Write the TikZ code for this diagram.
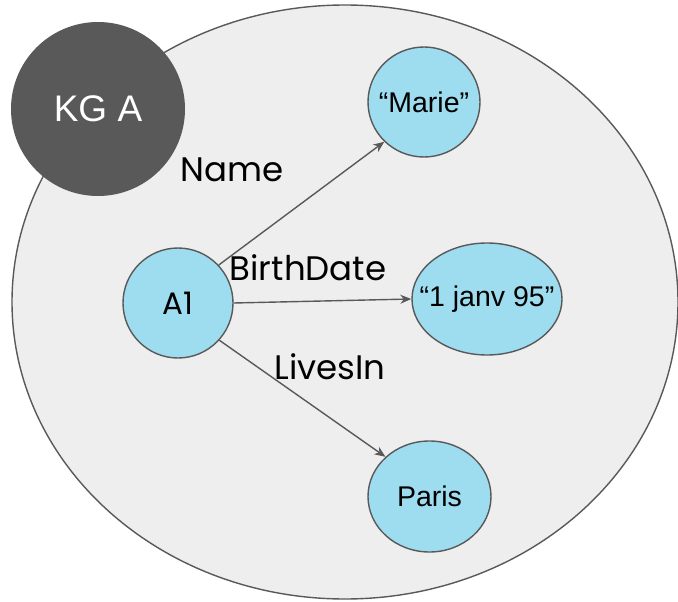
\documentclass[tikz,border=0pt]{standalone}
\usepackage{fontspec}
\setmainfont{Liberation Sans}
\newfontfamily\labelfont{Poppins}
\usetikzlibrary{shapes.geometric,arrows.meta}
\definecolor{graphfill}{HTML}{EEEEEE}
\definecolor{darkgray}{HTML}{595959}
\definecolor{nodeblue}{HTML}{9EDCEF}
\tikzset{
  entity/.style={ellipse, draw=darkgray, line width=1.4pt, fill=nodeblue,
    inner sep=0pt, label={[font=\fontsize{28.5}{31}\selectfont]center:#1}},
  relation/.style={font=\labelfont\fontsize{34}{36}\selectfont, inner sep=0pt},
  link/.style={draw=darkgray, line width=1.4pt,
    -{Stealth[length=11pt,width=9pt]}},
}
\begin{document}
\begin{tikzpicture}[x=1pt,y=-1pt]
\useasboundingbox (0,0) rectangle (678,602);
% the knowledge graph region
\node[ellipse, draw=darkgray, line width=1.4pt, fill=graphfill,
  minimum width=666pt, minimum height=594pt, inner sep=0pt] (kg) at (345,302) {};
% graph badge
\node[circle, fill=darkgray, minimum size=174pt, inner sep=0pt,
  text=white, font=\fontsize{37}{40}\selectfont] (badge) at (98,109) {KG A};
% entities
\node[ellipse, draw=darkgray, line width=1.4pt, fill=nodeblue, inner sep=0pt,
  minimum width=110pt, minimum height=110pt,
  font=\labelfont\fontsize{31}{33}\selectfont] (a1) at (178,303) {A1};
\node[entity={“Marie”}, minimum width=112pt, minimum height=110pt] (marie) at (424,102) {};
\node[entity={“1 janv 95\symbol{34}}, minimum width=150pt, minimum height=112pt] (date) at (487,299) {};
\node[entity={Paris}, minimum width=123pt, minimum height=111pt] (paris) at (429.5,496.5) {};
% relations
\draw[link] (a1.43) -- (marie.225);
\draw[link] (a1.east) -- (date.180);
\draw[link] (a1.-42) -- (paris.138);
\node[relation] (lname) at (232,170) {Name};
\node[relation] (lbirth) at (308,268) {BirthDate};
\node[relation] (llives) at (330,367) {LivesIn};
\end{tikzpicture}
\end{document}
